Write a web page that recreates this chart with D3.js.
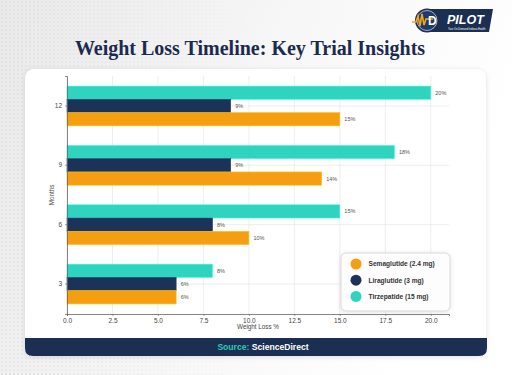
<!DOCTYPE html>
<html><head><meta charset="utf-8">
<script src="https://cdn.jsdelivr.net/npm/d3@7"></script>
<style>html,body{margin:0;padding:0;background:#fff;}svg{display:block;}</style>
</head><body>
<svg id="chart" width="512" height="375"></svg>
<script>
const months = ["12", "9", "6", "3"];
const drugs = ["Tirzepatide (15 mg)", "Liraglutide (3 mg)", "Semaglutide (2.4 mg)"];
const legendOrder = ["Semaglutide (2.4 mg)", "Liraglutide (3 mg)", "Tirzepatide (15 mg)"];
const semaglutide = [15, 14, 10, 6];
const liraglutide = [9, 9, 8, 6];
const tirzepatide = [20, 18, 15, 8];
const xTicks = [0, 2.5, 5, 7.5, 10, 12.5, 15, 17.5, 20];
const colors = ["#2fd3be", "#1b3358", "#f59e12"];
const series = [tirzepatide, liraglutide, semaglutide];

const svg = d3.select("#chart");
const defs = svg.append("defs");
const bg = defs.append("linearGradient").attr("id","bg").attr("x1","0").attr("x2","1").attr("y1","0").attr("y2","0.3");
bg.append("stop").attr("offset","0").attr("stop-color","#e9e9e9");
bg.append("stop").attr("offset","0.55").attr("stop-color","#f7f7f7");
bg.append("stop").attr("offset","1").attr("stop-color","#ffffff");
const pat = defs.append("pattern").attr("id","dots").attr("width",4).attr("height",4).attr("patternUnits","userSpaceOnUse");
pat.append("circle").attr("cx",2).attr("cy",2).attr("r",0.7).attr("fill","#d6d6d6");
const fade = defs.append("linearGradient").attr("id","fade").attr("x1","0").attr("x2","1");
fade.append("stop").attr("offset","0").attr("stop-color","#fff").attr("stop-opacity",1);
fade.append("stop").attr("offset","0.5").attr("stop-color","#fff").attr("stop-opacity",0);
const mask = defs.append("mask").attr("id","m");
mask.append("rect").attr("width",512).attr("height",375).attr("fill","url(#fade)");
const sh = defs.append("filter").attr("id","sh").attr("x","-10%").attr("y","-10%").attr("width","120%").attr("height","120%");
sh.append("feDropShadow").attr("dx",0).attr("dy",1).attr("stdDeviation",2.5).attr("flood-color","#000").attr("flood-opacity",0.12);

svg.append("rect").attr("width",512).attr("height",375).attr("fill","url(#bg)");
svg.append("rect").attr("width",512).attr("height",375).attr("fill","url(#dots)").attr("mask","url(#m)");

// card
svg.append("rect").attr("x",25).attr("y",69).attr("width",461).attr("height",287).attr("rx",9).attr("fill","#fff").attr("filter","url(#sh)");
// footer
const fx=25, fy=338, fw=462, fh=18, fr=8;
svg.append("path").attr("d",`M${fx},${fy} H${fx+fw} V${fy+fh-fr} Q${fx+fw},${fy+fh} ${fx+fw-fr},${fy+fh} H${fx+fr} Q${fx},${fy+fh} ${fx},${fy+fh-fr} Z`).attr("fill","#1b2f52");
const ft = svg.append("text").attr("x",263).attr("y",350).attr("text-anchor","middle")
  .attr("font-family","Liberation Sans, Arial, sans-serif").attr("font-weight","bold").attr("font-size",8.6);
ft.append("tspan").attr("fill","#2fc7b6").text("Source: ");
ft.append("tspan").attr("fill","#ffffff").text("ScienceDirect");

// title
svg.append("text").attr("x",250).attr("y",55).attr("text-anchor","middle")
  .attr("font-family","Liberation Serif, DejaVu Serif, serif").attr("font-weight","bold")
  .attr("font-size",20).attr("fill","#1b2a4e").text("Weight Loss Timeline: Key Trial Insights");

// logo
const lg = svg.append("g");
lg.append("path").attr("d","M430,9 H493 L489,32 H430 Z").attr("fill","#1b2f52");
lg.append("circle").attr("cx",427).attr("cy",20.5).attr("r",12).attr("fill","#1b2f52");
lg.append("circle").attr("cx",427).attr("cy",20.5).attr("r",10).attr("fill","#1f3a6a").attr("stroke","#fff").attr("stroke-width",0.6);
lg.append("path").attr("d","M412,22 L416,22 L418,16 L420,26 L422,14 L424,25 L426,19 L433,19").attr("fill","none").attr("stroke","#f5a31a").attr("stroke-width",1.6);
lg.append("text").attr("x",428).attr("y",25).attr("font-family","Liberation Sans, Arial").attr("font-weight","bold").attr("font-size",12).attr("fill","#fff").text("D");
lg.append("text").attr("x",447).attr("y",24).attr("font-family","Liberation Sans, Arial").attr("font-weight","bold").attr("font-style","italic").attr("font-size",12.5).attr("fill","#fff").text("PILOT");
lg.append("text").attr("x",448).attr("y",29.5).attr("font-family","Liberation Sans, Arial").attr("font-size",2.6).attr("fill","#fff").text("Your On-Demand Indiana Health");

// plot
const pLeft = 67, pRight = 449, pTop = 76, pBottom = 314;
const x = d3.scaleLinear().domain([0, 21]).range([pLeft, pRight]);
const y = d3.scaleBand().domain(months).range([pTop, pBottom]).paddingInner(0.33).paddingOuter(0.17);
const ys = d3.scaleBand().domain(drugs).range([0, y.bandwidth()]);

const g = svg.append("g");
// grid
g.selectAll(".vg").data(xTicks).enter().append("line")
  .attr("x1",d=>x(d)).attr("x2",d=>x(d)).attr("y1",pTop).attr("y2",pBottom)
  .attr("stroke","#e6e6e6").attr("stroke-width",0.7);
g.selectAll(".hg").data(months).enter().append("line")
  .attr("x1",pLeft).attr("x2",pRight).attr("y1",d=>y(d)+y.bandwidth()/2).attr("y2",d=>y(d)+y.bandwidth()/2)
  .attr("stroke","#e6e6e6").attr("stroke-width",0.7);

// bars
drugs.forEach((dr, i) => {
  const vals = series[i];
  g.selectAll(".b"+i).data(months).enter().append("rect")
    .attr("x", x(0)).attr("y", (m)=>y(m)+ys(dr))
    .attr("width", (m,j)=>x(vals[j])-x(0)).attr("height", ys.bandwidth())
    .attr("fill", colors[i]).attr("stroke", d3.color(colors[i]).brighter(0.6)).attr("stroke-width",0.6);
  g.selectAll(".l"+i).data(months).enter().append("text")
    .attr("x", (m,j)=>x(vals[j])+4.5).attr("y", (m)=>y(m)+ys(dr)+ys.bandwidth()/2)
    .attr("dy","0.35em").attr("font-family","Liberation Sans, Arial, sans-serif").attr("font-size",5.5)
    .attr("fill","#555").text((m,j)=>vals[j]+"%");
});

// axes
const xa = g.append("g").attr("transform",`translate(0,${pBottom})`)
  .call(d3.axisBottom(x).tickValues(xTicks).tickFormat(d3.format(".1f")).tickSize(2).tickPadding(2));
const ya = g.append("g").attr("transform",`translate(${pLeft},0)`)
  .call(d3.axisLeft(y).tickSize(2).tickPadding(3));
[xa, ya].forEach(a => {
  a.select(".domain").attr("stroke","#666").attr("stroke-width",0.8);
  a.selectAll(".tick line").attr("stroke","#666").attr("stroke-width",0.6);
  a.selectAll(".tick text").attr("font-family","Liberation Sans, Arial, sans-serif").attr("font-size",6.5).attr("fill","#444");
});
g.append("text").attr("x",(pLeft+pRight)/2).attr("y",329).attr("text-anchor","middle")
  .attr("font-family","Liberation Sans, Arial, sans-serif").attr("font-size",6.3).attr("fill","#444").text("Weight Loss %");
g.append("text").attr("transform",`translate(54,${(pTop+pBottom)/2}) rotate(-90)`).attr("text-anchor","middle")
  .attr("font-family","Liberation Sans, Arial, sans-serif").attr("font-size",6.3).attr("fill","#444").text("Months");

// legend
const leg = svg.append("g");
leg.append("rect").attr("x",341).attr("y",253).attr("width",109).attr("height",58).attr("rx",5)
  .attr("fill","#fdfdfd").attr("stroke","#cfcfcf").attr("stroke-width",0.8).attr("filter","url(#sh)");
legendOrder.forEach((name, i) => {
  const c = colors[drugs.indexOf(name)];
  const cy = 264 + i*16.2;
  leg.append("circle").attr("cx",356).attr("cy",cy).attr("r",5.5).attr("fill",c);
  leg.append("text").attr("x",368.5).attr("y",cy).attr("dy","0.35em")
    .attr("font-family","Liberation Sans, Arial, sans-serif").attr("font-weight","bold").attr("font-size",6.6)
    .attr("fill","#333").text(name);
});
</script>
</body></html>
